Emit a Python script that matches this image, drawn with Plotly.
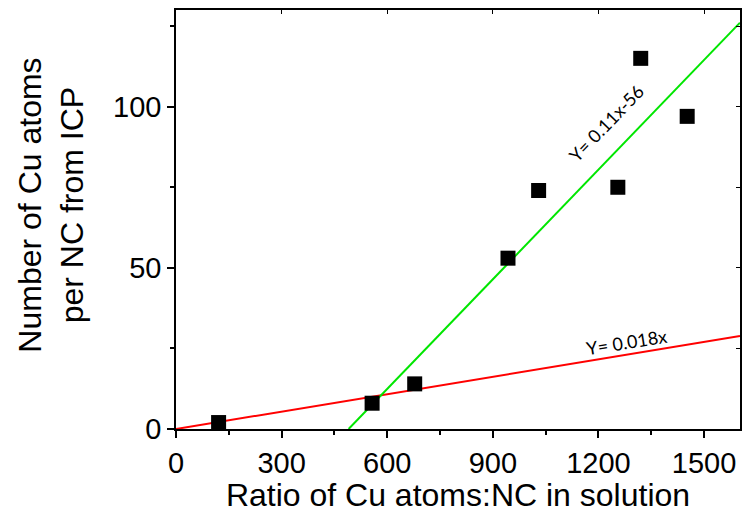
import plotly.graph_objects as go
import numpy as np

# Data
ratio_x = [121, 557, 678, 943, 1030, 1255, 1320, 1452]
cu_atoms_y = [2, 8, 14, 53, 74, 75, 115, 97]

# Fit lines (slope, intercept)
red_slope, red_intercept = 0.018, 0.0
green_slope, green_intercept = 0.1134, -55.6
x_max = 1602
y_max = 130

red_label = "Y= 0.018x"
green_label = "Y= 0.11x-56"
x_title = "Ratio of Cu atoms:NC in solution"
y_title = "Number of Cu atoms<br>per NC from ICP"

fig = go.Figure()

rx = np.array([0, x_max])
fig.add_trace(go.Scatter(x=rx, y=red_slope * rx + red_intercept, mode="lines",
                         line=dict(color="#ff0000", width=2), showlegend=False, hoverinfo="skip"))
gx0 = -green_intercept / green_slope
gx = np.array([gx0, x_max])
fig.add_trace(go.Scatter(x=gx, y=green_slope * gx + green_intercept, mode="lines",
                         line=dict(color="#00e600", width=2), showlegend=False, hoverinfo="skip"))

fig.add_trace(go.Scatter(x=ratio_x, y=cu_atoms_y, mode="markers",
                         marker=dict(symbol="square", size=15, color="black"),
                         showlegend=False))

ann_font = dict(family="Lato, Open Sans, sans-serif", size=18, color="black")
fig.add_annotation(x=1222, y=95, text=green_label, showarrow=False, textangle=-46, font=ann_font)
fig.add_annotation(x=1280, y=27, text=red_label, showarrow=False, textangle=-9, font=ann_font)

tick_font = dict(family="Liberation Sans, Arial, sans-serif", size=29, color="black")
xtitle_font = dict(family="Liberation Sans, Arial, sans-serif", size=32, color="black")
ytitle_font = dict(family="Liberation Sans, Arial, sans-serif", size=32, color="black")

# y-axis title as a rotated annotation for exact placement
fig.add_annotation(xref="paper", yref="paper", x=-0.222, y=0.535, text=y_title, showarrow=False,
                   textangle=-90, xanchor="center", yanchor="middle", font=ytitle_font)

fig.update_layout(
    width=744, height=513,
    margin=dict(l=176, r=2, t=10, b=84),
    paper_bgcolor="white", plot_bgcolor="white",
    xaxis=dict(range=[0, x_max], tickvals=[0, 300, 600, 900, 1200, 1500],
               ticks="outside", ticklen=7, tickwidth=1.5, tickcolor="black",
               minor=dict(tickvals=[150, 450, 750, 1050, 1350], ticks="outside", ticklen=4, tickwidth=1.5, tickcolor="black"),
               showline=True, linecolor="black", linewidth=1.5, mirror=True,
               showgrid=False, zeroline=False, tickfont=tick_font,
               title=dict(text=x_title, font=xtitle_font, standoff=1)),
    yaxis=dict(range=[0, y_max], tickvals=[0, 50, 100],
               ticks="outside", ticklen=7, tickwidth=1.5, tickcolor="black",
               minor=dict(tickvals=[25, 75, 125], ticks="outside", ticklen=4, tickwidth=1.5, tickcolor="black"),
               showline=True, linecolor="black", linewidth=1.5, mirror=True,
               showgrid=False, zeroline=False, tickfont=tick_font),
    xaxis2=dict(overlaying="x", side="top", range=[0, x_max], tickvals=[0, 300, 600, 900, 1200, 1500],
                ticks="inside", ticklen=4, tickwidth=1, tickcolor="black", showticklabels=False,
                showgrid=False, zeroline=False, showline=False),
    yaxis2=dict(overlaying="y", side="right", range=[0, y_max], tickvals=[0, 25, 50, 75, 100, 125],
                ticks="inside", ticklen=4, tickwidth=1, tickcolor="black", showticklabels=False,
                showgrid=False, zeroline=False, showline=False),
)

fig.add_trace(go.Scatter(x=[None], y=[None], xaxis="x2", yaxis="y2", showlegend=False, hoverinfo="skip"))

fig.write_html("out.html")
